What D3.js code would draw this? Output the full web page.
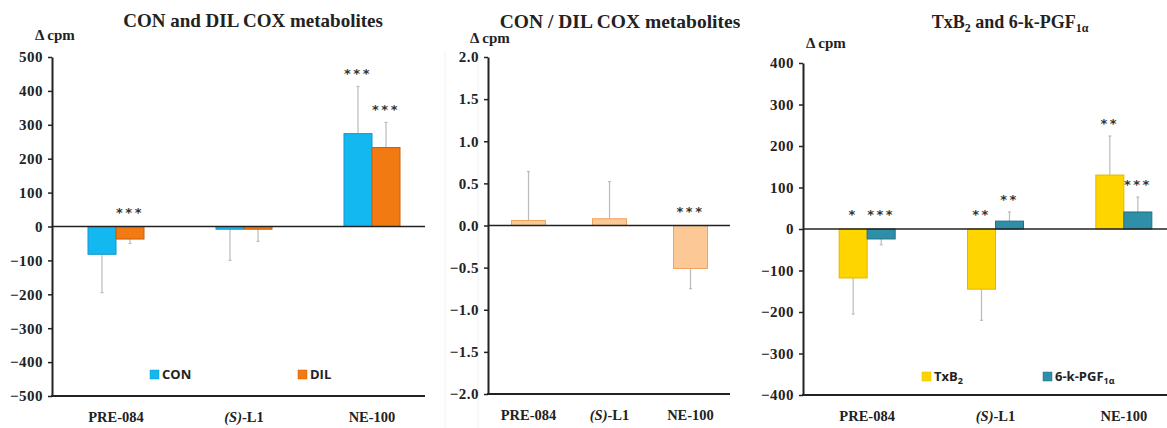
<!DOCTYPE html>
<html>
<head>
<meta charset="utf-8">
<script src="https://cdn.jsdelivr.net/npm/d3@7"></script>
<style>
  body { margin: 0; background: #fff; }
  .cat, .ylab, .ptitle { font-family: "Liberation Serif", "Times New Roman", serif; font-weight: bold; fill: #222; }
  .leg { font-family: "Open Sans", "DejaVu Sans", sans-serif; font-weight: bold; fill: #222; }
</style>
</head>
<body>
<div id="chart"></div>
<script>
// categories shared by all three panels
var categories = ["PRE-084", "(S)-L1", "NE-100"];

// panel 1: CON and DIL
var conValues = [-82, -8, 274];
var conErr = [113, 92, 139];
var conStars = ["", "", "***"];
var dilValues = [-37, -8, 233];
var dilErr = [13, 36, 74];
var dilStars = ["***", "", "***"];
var p1Ticks = [500, 400, 300, 200, 100, 0, -100, -200, -300, -400, -500];

// panel 2: CON / DIL ratio
var ratioValues = [0.06, 0.08, -0.51];
var ratioErr = [0.58, 0.44, 0.24];
var ratioStars = ["", "", "***"];
var p2Ticks = [2.0, 1.5, 1.0, 0.5, 0.0, -0.5, -1.0, -1.5, -2.0];

// panel 3: TxB2 and 6-k-PGF1a
var txbValues = [-118, -145, 130];
var txbErr = [87, 75, 94];
var txbStars = ["*", "**", "**"];
var pgfValues = [-24, 19, 41];
var pgfErr = [14, 22, 36];
var pgfStars = ["***", "**", "***"];
var p3Ticks = [400, 300, 200, 100, 0, -100, -200, -300, -400];

var svg = d3.select("#chart").append("svg")
  .attr("width", 1167)
  .attr("height", 428);

// faint panel separators
[445, 478].forEach(function(x) {
  svg.append("line").attr("x1", x).attr("x2", x).attr("y1", 50).attr("y2", 428)
    .attr("stroke", "#f2f2f2").attr("stroke-width", 1);
});

function drawPanel(cfg) {
  var g = svg.append("g");

  var y = d3.scaleLinear().domain(cfg.domain).range([cfg.bottom, cfg.top]);
  var x = d3.scaleBand().domain(categories).range([cfg.left, cfg.right]);
  var sub = d3.scaleBand().domain(d3.range(cfg.series.length))
    .range([0, cfg.barW * cfg.series.length]);

  // y axis
  var yAxis = d3.axisLeft(y).tickValues(cfg.ticks).tickSize(4).tickSizeOuter(0)
    .tickFormat(cfg.fmt);
  var ya = g.append("g").attr("transform", "translate(" + cfg.left + ",0)").call(yAxis);
  ya.attr("font-family", null).attr("font-size", null);
  ya.select(".domain").attr("stroke", "#222").attr("stroke-width", 2);
  ya.selectAll(".tick line").attr("stroke", "#222").attr("stroke-width", 1.5);
  ya.selectAll(".tick text")
    .attr("x", -9)
    .attr("fill", "#222")
    .style("font-family", "'Liberation Serif', 'Times New Roman', serif")
    .style("font-weight", "bold")
    .style("font-size", "15px")
    .style("letter-spacing", "0.5px");

  // series
  cfg.series.forEach(function(s, si) {
    categories.forEach(function(c, ci) {
      var v = s.values[ci];
      var bx = x(c) + x.bandwidth() / 2 - cfg.barW * cfg.series.length / 2 + sub(si);
      var e = s.err[ci];
      var tip = v >= 0 ? v + e : v - e;
      var cx = bx + cfg.barW / 2;
      // error bar
      g.append("line").attr("x1", cx).attr("x2", cx)
        .attr("y1", y(v)).attr("y2", y(tip))
        .attr("stroke", "#bbb").attr("stroke-width", 1.2);
      g.append("line").attr("x1", cx - 1.5).attr("x2", cx + 1.5)
        .attr("y1", y(tip)).attr("y2", y(tip))
        .attr("stroke", "#bbb").attr("stroke-width", 1.2);
      // bar
      g.append("rect")
        .attr("x", bx).attr("width", cfg.barW)
        .attr("y", y(Math.max(0, v)))
        .attr("height", Math.abs(y(v) - y(0)))
        .attr("fill", s.color)
        .attr("stroke", s.stroke).attr("stroke-width", 1);
      // significance stars
      if (s.stars[ci]) {
        var center = v >= 0 ? y(tip) - 16 : y(0) - 18;
        g.append("text").attr("x", cx).attr("y", center + 8)
          .attr("text-anchor", "middle")
          .style("font-family", "DejaVu Sans, sans-serif")
          .style("font-size", "13px").style("font-weight", "bold")
          .style("letter-spacing", "2.5px")
          .attr("fill", "#333")
          .text(s.stars[ci]);
      }
    });
  });

  // zero line and bottom line
  g.append("line").attr("x1", cfg.left).attr("x2", cfg.lineEnd)
    .attr("y1", y(0)).attr("y2", y(0)).attr("stroke", "#222").attr("stroke-width", 1.5);
  g.append("line").attr("x1", cfg.left - 1).attr("x2", cfg.lineEnd)
    .attr("y1", cfg.bottom).attr("y2", cfg.bottom).attr("stroke", "#222").attr("stroke-width", 2);

  // category labels
  categories.forEach(function(c) {
    var t = g.append("text").attr("class", "cat")
      .attr("x", x(c) + x.bandwidth() / 2).attr("y", cfg.bottom + 26)
      .attr("text-anchor", "middle").style("font-size", "14.5px");
    if (c === "(S)-L1") {
      t.append("tspan").style("font-style", "italic").text("(S)");
      t.append("tspan").text("-L1");
    } else {
      t.text(c);
    }
  });

  // title and unit label
  var title = g.append("text").attr("class", "ptitle")
    .attr("x", cfg.titleX).attr("y", cfg.titleY)
    .attr("text-anchor", "middle").style("font-size", cfg.titleSize + "px");
  cfg.title(title);
  g.append("text").attr("class", "ylab")
    .attr("x", cfg.unitX).attr("y", cfg.unitY)
    .style("font-size", "15px").text("\u0394 cpm");

  // legend
  (cfg.legend || []).forEach(function(l, li) {
    var s = cfg.series[li];
    g.append("rect").attr("x", l.x).attr("y", l.y - 9).attr("width", 9).attr("height", 9)
      .attr("fill", s.color).attr("stroke", s.stroke).attr("stroke-width", 0.5);
    var t = g.append("text").attr("class", "leg")
      .attr("x", l.x + 12).attr("y", l.y).style("font-size", "13px");
    l.label(t);
  });
}

drawPanel({
  domain: [-500, 500], ticks: p1Ticks, fmt: d3.format("d"),
  top: 57, bottom: 396, left: 52, right: 436, lineEnd: 425, barW: 28,
  series: [
    { values: conValues, err: conErr, stars: conStars, color: "#14B8F0", stroke: "#0E9ACB" },
    { values: dilValues, err: dilErr, stars: dilStars, color: "#F27A12", stroke: "#C9600A" }
  ],
  title: function(t) { t.text("CON and DIL COX metabolites"); },
  titleX: 253, titleY: 27, titleSize: 19, unitX: 35, unitY: 40,
  legend: [
    { x: 150, y: 379, label: function(t) { t.text("CON"); } },
    { x: 298, y: 379, label: function(t) { t.text("DIL"); } }
  ]
});

drawPanel({
  domain: [-2, 2], ticks: p2Ticks, fmt: d3.format(".1f"),
  top: 57, bottom: 394, left: 488, right: 731, lineEnd: 730, barW: 34,
  series: [
    { values: ratioValues, err: ratioErr, stars: ratioStars, color: "#FBC896", stroke: "#F2A35C" }
  ],
  title: function(t) { t.text("CON / DIL COX metabolites"); },
  titleX: 620, titleY: 28, titleSize: 19.5, unitX: 470, unitY: 43
});

drawPanel({
  domain: [-400, 400], ticks: p3Ticks, fmt: d3.format("d"),
  top: 63, bottom: 395, left: 803, right: 1188, lineEnd: 1167, barW: 28,
  series: [
    { values: txbValues, err: txbErr, stars: txbStars, color: "#FFD500", stroke: "#E0B800" },
    { values: pgfValues, err: pgfErr, stars: pgfStars, color: "#2F8FA8", stroke: "#1F6F85" }
  ],
  title: function(t) {
    t.append("tspan").text("TxB");
    t.append("tspan").attr("dy", 4).style("font-size", "12px").text("2");
    t.append("tspan").attr("dy", -4).text(" and 6-k-PGF");
    t.append("tspan").attr("dy", 4).style("font-size", "12px").text("1\u03b1");
  },
  titleX: 1010, titleY: 28, titleSize: 18, unitX: 806, unitY: 48,
  legend: [
    { x: 922, y: 381, label: function(t) {
      t.append("tspan").text("TxB");
      t.append("tspan").attr("dy", 3).style("font-size", "9px").text("2");
    } },
    { x: 1043, y: 381, label: function(t) {
      t.append("tspan").text("6-k-PGF");
      t.append("tspan").attr("dy", 3).style("font-size", "9px").text("1\u03b1");
    } }
  ]
});
</script>
</body>
</html>
